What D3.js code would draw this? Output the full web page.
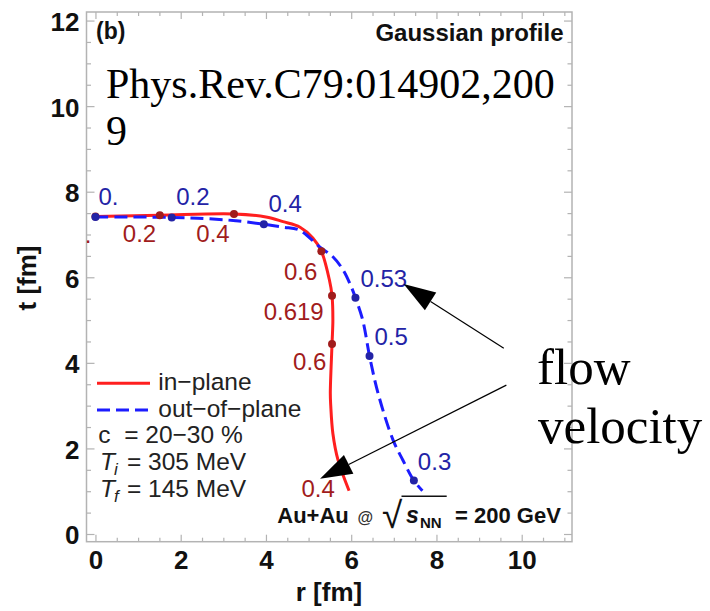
<!DOCTYPE html>
<html>
<head>
<meta charset="utf-8">
<script src="https://cdn.jsdelivr.net/npm/d3@7/dist/d3.min.js"></script>
<style>
  html, body { margin: 0; padding: 0; background: #fff; }
  svg { display: block; }
  text { font-family: "Liberation Sans", Arial, Helvetica, sans-serif; }
  .serif { font-family: "Liberation Serif", "Times New Roman", serif; }
</style>
</head>
<body>
<svg id="chart" width="710" height="611"></svg>
<script>
// ---- data -------------------------------------------------------------
const xTicks = [0, 2, 4, 6, 8, 10];
const yTicks = [0, 2, 4, 6, 8, 10, 12];

// freeze-out surface, in-plane direction (r [fm], t [fm])
const inPlaneR = [0, 1.5, 3.25, 4.0, 4.4, 4.8, 5.1, 5.3, 5.49, 5.55, 5.57, 5.55, 5.51, 5.52, 5.57, 5.69, 5.95];
const inPlaneT = [7.42, 7.45, 7.48, 7.41, 7.30, 7.17, 6.92, 6.61, 5.93, 5.57, 5.0, 4.44, 3.29, 3.0, 2.35, 1.73, 1.01];

// freeze-out surface, out-of-plane direction
const outPlaneR = [0, 1.79, 2.6, 3.3, 3.95, 4.4, 4.79, 5.26, 5.57, 5.81, 6.0, 6.1, 6.27, 6.43, 6.63, 6.98, 7.21, 7.47, 7.67];
const outPlaneT = [7.41, 7.40, 7.37, 7.32, 7.24, 7.17, 7.10, 6.71, 6.48, 6.17, 5.78, 5.52, 5.0, 4.16, 3.29, 2.2, 1.73, 1.25, 1.01];

// flow-velocity markers along each surface
const inMarkR = [0, 1.51, 3.25, 5.30, 5.55, 5.55, 5.95];
const inMarkT = [7.42, 7.45, 7.48, 6.61, 5.57, 4.44, 1.01];
const inMarkV = ["0.", "0.2", "0.4", "0.6", "0.619", "0.6", "0.4"];

const outMarkR = [0, 1.79, 3.95, 6.10, 6.43, 7.47];
const outMarkT = [7.41, 7.40, 7.24, 5.52, 4.16, 1.25];
const outMarkV = ["0.", "0.2", "0.4", "0.53", "0.5", "0.3"];

// arrows for the "flow velocity" note: [r, t]
const arrowFrom = [[9.58, 4.34], [9.64, 3.48]];
const arrowTo   = [[7.23, 5.84], [5.27, 1.29]];

// ---- layout -----------------------------------------------------------
const frame = { left: 86.5, top: 12, right: 572, bottom: 541.7 };
const x = d3.scaleLinear().domain([-0.21, 11.18]).range([frame.left, frame.right]);
const y = d3.scaleLinear().domain([-0.18, 12.2]).range([frame.bottom, frame.top]);

const RED = "#ff1f1f", BLUE = "#1c1cff";
const RED_DARK = "#a11c1c", BLUE_DARK = "#2323a6";
const GRID = "#b3b3b3";

const svg = d3.select("#chart");

svg.append("defs").append("clipPath").attr("id", "plotClip")
  .append("rect")
  .attr("x", frame.left).attr("y", frame.top)
  .attr("width", frame.right - frame.left)
  .attr("height", frame.bottom - frame.top);

// ---- frame and ticks (all sides, pointing inward) ----------------------
const minorX = d3.range(0, 11.01, 0.5).filter(v => v % 2 !== 0);
const minorY = d3.range(0, 12.01, 0.5).filter(v => v % 2 !== 0);

function tickAxis(axisFn, scale, values, size, pos, labels) {
  const g = svg.append("g").attr("transform", pos);
  g.call(axisFn(scale).tickValues(values).tickSize(size)
    .tickFormat(labels ? d3.format("d") : ""));
  g.select(".domain").remove();
  g.selectAll(".tick line").attr("stroke", GRID).attr("stroke-width", 1.2);
  return g;
}

const bottomMajor = tickAxis(d3.axisBottom, x, xTicks, -7, `translate(0,${frame.bottom})`, true);
tickAxis(d3.axisBottom, x, minorX, -4, `translate(0,${frame.bottom})`, false);
tickAxis(d3.axisTop, x, xTicks, -7, `translate(0,${frame.top})`, false);
tickAxis(d3.axisTop, x, minorX, -4, `translate(0,${frame.top})`, false);
const leftMajor = tickAxis(d3.axisLeft, y, yTicks, -8, `translate(${frame.left},0)`, true);
tickAxis(d3.axisLeft, y, minorY, -4.5, `translate(${frame.left},0)`, false);
tickAxis(d3.axisRight, y, yTicks, -8, `translate(${frame.right},0)`, false);
tickAxis(d3.axisRight, y, minorY, -4.5, `translate(${frame.right},0)`, false);

bottomMajor.selectAll(".tick text")
  .attr("y", 0).attr("dy", 0)
  .attr("transform", "translate(0,27.6)")
  .style("font-family", "'Liberation Sans', Arial, sans-serif")
  .style("font-size", "26px").style("font-weight", "bold").attr("fill", "#111");

leftMajor.selectAll(".tick text")
  .attr("x", -7).attr("dy", 0).attr("y", 10)
  .style("font-family", "'Liberation Sans', Arial, sans-serif")
  .style("font-size", "26px").style("font-weight", "bold").attr("fill", "#111");

svg.append("rect")
  .attr("x", frame.left).attr("y", frame.top)
  .attr("width", frame.right - frame.left)
  .attr("height", frame.bottom - frame.top)
  .attr("fill", "none").attr("stroke", GRID).attr("stroke-width", 1.5);

// axis titles
svg.append("text")
  .attr("transform", "translate(36,278) rotate(-90)")
  .attr("text-anchor", "middle")
  .style("font-size", "26px").style("font-weight", "bold").attr("fill", "#111")
  .text("t [fm]");
svg.append("text")
  .attr("x", 329).attr("y", 601)
  .attr("text-anchor", "middle")
  .style("font-size", "26px").style("font-weight", "bold").attr("fill", "#111")
  .text("r [fm]");

// ---- curves -------------------------------------------------------------
const plot = svg.append("g").attr("clip-path", "url(#plotClip)");
const line = d3.line().x(d => x(d[0])).y(d => y(d[1])).curve(d3.curveCatmullRom.alpha(0.5));

plot.append("path")
  .datum(inPlaneR.map((r, i) => [r, inPlaneT[i]]))
  .attr("d", line).attr("fill", "none")
  .attr("stroke", RED).attr("stroke-width", 3);

plot.append("path")
  .datum(outPlaneR.map((r, i) => [r, outPlaneT[i]]))
  .attr("d", line).attr("fill", "none")
  .attr("stroke", BLUE).attr("stroke-width", 3)
  .attr("stroke-dasharray", "13,6");

// markers (the last in-plane entry marks the curve end, no dot)
plot.selectAll(".inDot")
  .data(inMarkR.slice(0, -1).map((r, i) => [r, inMarkT[i]]))
  .join("circle").attr("class", "inDot")
  .attr("cx", d => x(d[0])).attr("cy", d => y(d[1])).attr("r", 4)
  .attr("fill", RED_DARK);

plot.selectAll(".outDot")
  .data(outMarkR.map((r, i) => [r, outMarkT[i]]))
  .join("circle").attr("class", "outDot")
  .attr("cx", d => x(d[0])).attr("cy", d => y(d[1])).attr("r", 4)
  .attr("fill", BLUE_DARK);

// velocity labels
const inOffset = [[-4, 26], [-3.6, 26.4], [-4.3, 27.7], [-4, 29], [-8.3, 24.3], [-5.6, 26], [-14.3, 6]];
const outOffset = [[3, -11.7], [4.4, -12.3], [4.7, -12.6], [5, -11], [5, -11], [4, -10.7]];

plot.selectAll(".inLab")
  .data(inMarkV)
  .join("text").attr("class", "inLab")
  .attr("x", (d, i) => x(inMarkR[i]) + inOffset[i][0])
  .attr("y", (d, i) => y(inMarkT[i]) + inOffset[i][1])
  .attr("text-anchor", "end")
  .style("font-size", "24px").attr("fill", RED_DARK)
  .text(d => d);

plot.selectAll(".outLab")
  .data(outMarkV)
  .join("text").attr("class", "outLab")
  .attr("x", (d, i) => x(outMarkR[i]) + outOffset[i][0])
  .attr("y", (d, i) => y(outMarkT[i]) + outOffset[i][1])
  .attr("text-anchor", "start")
  .style("font-size", "24px").attr("fill", BLUE_DARK)
  .text(d => d);

// ---- in-panel texts -----------------------------------------------------
svg.append("text").attr("x", 96).attr("y", 39)
  .style("font-size", "23px").style("font-weight", "bold").attr("fill", "#111")
  .text("(b)");
svg.append("text").attr("x", 563.5).attr("y", 40.5).attr("text-anchor", "end")
  .style("font-size", "24px").style("font-weight", "bold").attr("fill", "#111")
  .text("Gaussian profile");

svg.append("text").attr("class", "serif").attr("x", 106).attr("y", 98.3)
  .style("font-size", "42px").attr("fill", "#000")
  .text("Phys.Rev.C79:014902,200");
svg.append("text").attr("class", "serif").attr("x", 106).attr("y", 145)
  .style("font-size", "42px").attr("fill", "#000")
  .text("9");

// legend
const legend = svg.append("g");
legend.append("line").attr("x1", 97).attr("x2", 150).attr("y1", 383.3).attr("y2", 383.3)
  .attr("stroke", RED).attr("stroke-width", 3);
legend.append("line").attr("x1", 97).attr("x2", 150).attr("y1", 410).attr("y2", 410)
  .attr("stroke", BLUE).attr("stroke-width", 3).attr("stroke-dasharray", "13,6");
legend.append("text").attr("x", 158.3).attr("y", 390)
  .style("font-size", "24.5px").attr("fill", "#222").text("in\u2212plane");
legend.append("text").attr("x", 158.3).attr("y", 416.5)
  .style("font-size", "24.5px").attr("fill", "#222").text("out\u2212of\u2212plane");
legend.append("text").attr("x", 98.3).attr("y", 443)
  .style("font-size", "24.5px").style("white-space", "pre").attr("fill", "#222")
  .text("c  = 20\u221230 %");

function tempRow(yy, sub, val) {
  const t = legend.append("text").attr("y", yy).style("font-size", "24.5px").attr("fill", "#222");
  t.append("tspan").attr("x", 100).style("font-style", "italic").text("T");
  t.append("tspan").attr("x", 114).attr("dy", 5).style("font-style", "italic")
    .style("font-size", "17px").text(sub);
  t.append("tspan").attr("x", 127).attr("dy", -5).text("= " + val);
}
tempRow(470, "i", "305 MeV");
tempRow(496.7, "f", "145 MeV");

// collision system
const sys = svg.append("g").attr("fill", "#111");
sys.append("text").attr("x", 277.3).attr("y", 523.3)
  .style("font-size", "22px").style("font-weight", "bold").text("Au+Au");
sys.append("text").attr("x", 357.5).attr("y", 522.5)
  .style("font-size", "16px").style("font-weight", "bold").attr("fill", "#333").text("@");
sys.append("text").attr("x", 382).attr("y", 527.5)
  .style("font-size", "37px").text("\u221A");
sys.append("line").attr("x1", 401.5).attr("x2", 446.7).attr("y1", 496.2).attr("y2", 496.2)
  .attr("stroke", "#111").attr("stroke-width", 1.6);
sys.append("text").attr("x", 406).attr("y", 523.3)
  .style("font-size", "23px").style("font-weight", "bold").style("font-style", "italic").text("s");
sys.append("text").attr("x", 420).attr("y", 528)
  .style("font-size", "15px").style("font-weight", "bold").text("NN");
sys.append("text").attr("x", 455).attr("y", 523.3)
  .style("font-size", "22px").style("font-weight", "bold").text("= 200 GeV");

// ---- "flow velocity" note with arrows ------------------------------------
const note = svg.append("g");
arrowFrom.forEach((a, i) => {
  const b = arrowTo[i];
  const x0 = x(a[0]), y0 = y(a[1]), x1 = x(b[0]), y1 = y(b[1]);
  const L = Math.hypot(x1 - x0, y1 - y0), ux = (x1 - x0) / L, uy = (y1 - y0) / L;
  const headLen = 32, headHalf = 10.5;
  const bx = x1 - ux * headLen, by = y1 - uy * headLen;
  note.append("line").attr("x1", x0).attr("y1", y0).attr("x2", bx).attr("y2", by)
    .attr("stroke", "#000").attr("stroke-width", 1.2);
  note.append("path")
    .attr("d", `M${x1},${y1}L${bx - uy * headHalf},${by + ux * headHalf}L${bx + uy * headHalf},${by - ux * headHalf}Z`)
    .attr("fill", "#000");
});
note.append("text").attr("class", "serif").attr("x", 537).attr("y", 384)
  .style("font-size", "51px").attr("fill", "#000").text("flow");
note.append("text").attr("class", "serif").attr("x", 538).attr("y", 443.3)
  .style("font-size", "51px").attr("fill", "#000").text("velocity");
</script>
</body>
</html>
